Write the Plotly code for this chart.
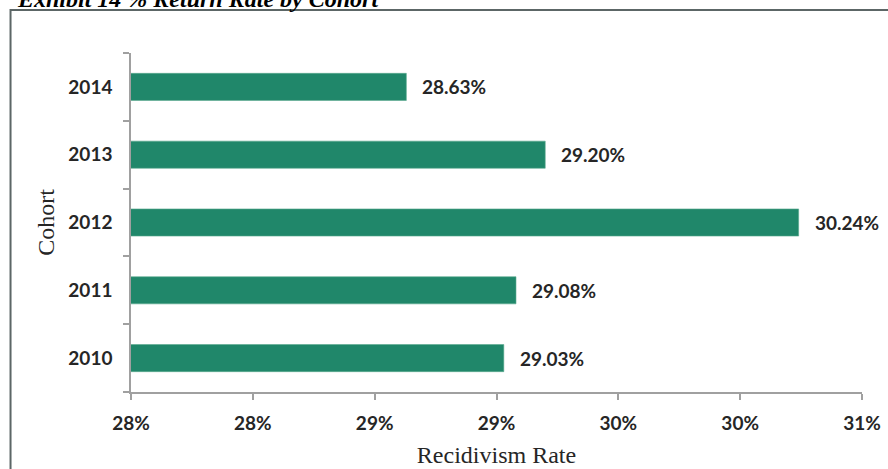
import plotly.graph_objects as go

# Recidivism rate (%) per release cohort
cohorts = ["2010", "2011", "2012", "2013", "2014"]
rates = [29.03, 29.08, 30.24, 29.20, 28.63]

# x-axis ticks: values every half point, labels rounded to whole percent
x_tickvals = [27.5, 28.0, 28.5, 29.0, 29.5, 30.0, 30.5]
x_ticktext = ["28%", "28%", "29%", "29%", "30%", "30%", "31%"]

title_text = "Exhibit 14 % Return Rate by Cohort"

BAR = "#20876a"
TEXT = "#262626"
AXIS = "#a0a0a0"
LABEL_FONT = dict(family="Lato, 'Open Sans', sans-serif", size=19, color=TEXT, weight="bold")
SERIF = "'Liberation Serif', 'Times New Roman', serif"

fig = go.Figure()
fig.add_trace(go.Bar(
    y=cohorts,
    x=rates,
    base=0,
    orientation="h",
    width=0.4,
    marker=dict(color=BAR, line=dict(color="#5aa98e", width=0.6)),
    hoverinfo="skip",
))

# value labels to the right of each bar (category index on the y axis)
for i, r in enumerate(rates):
    fig.add_annotation(
        x=r, y=i, xref="x", yref="y",
        text=f"{r:.2f}%", showarrow=False,
        xanchor="left", yanchor="middle", xshift=14,
        font=LABEL_FONT,
    )

# exhibit heading, sitting above the framed chart
fig.add_annotation(
    x=-0.159, y=1.116, xref="paper", yref="paper",
    text=f"<b><i>{title_text}</i></b>", showarrow=False,
    xanchor="left", yanchor="bottom",
    font=dict(family=SERIF, size=24, color="#000000"),
)

# frame around the chart
fig.add_shape(
    type="rect", xref="paper", yref="paper",
    x0=-0.1648, y0=-0.6, x1=1.2, y1=1.1268,
    line=dict(color="#5c6666", width=2),
    fillcolor="rgba(0,0,0,0)", layer="below",
)

fig.update_layout(
    width=888, height=469,
    margin=dict(l=131, r=26, t=53, b=77),
    paper_bgcolor="white", plot_bgcolor="white",
    showlegend=False,
    bargap=0.6,
    xaxis=dict(
        range=[27.5, 30.5],
        automargin=False,
        tickvals=x_tickvals, ticktext=x_ticktext,
        showgrid=False, zeroline=False,
        showline=True, linecolor=AXIS, linewidth=1.5,
        ticks="outside", ticklen=6, tickcolor=AXIS, tickwidth=1.5,
        tickfont=LABEL_FONT,
        ticklabelstandoff=7,
        title=dict(text="Recidivism Rate", font=dict(family=SERIF, size=24, color=TEXT), standoff=14),
    ),
    yaxis=dict(
        type="category",
        automargin=False,
        categoryorder="array", categoryarray=cohorts,
        range=[-0.5, 4.5],
        showgrid=False, zeroline=False,
        showline=True, linecolor=AXIS, linewidth=1.5,
        ticks="outside", ticklen=6, tickcolor=AXIS, tickwidth=1.5,
        tickson="boundaries",
        tickfont=LABEL_FONT,
        ticklabelstandoff=13,
        title=dict(text="Cohort", font=dict(family=SERIF, size=24, color=TEXT), standoff=7),
    ),
)

fig.write_html("out.html")
